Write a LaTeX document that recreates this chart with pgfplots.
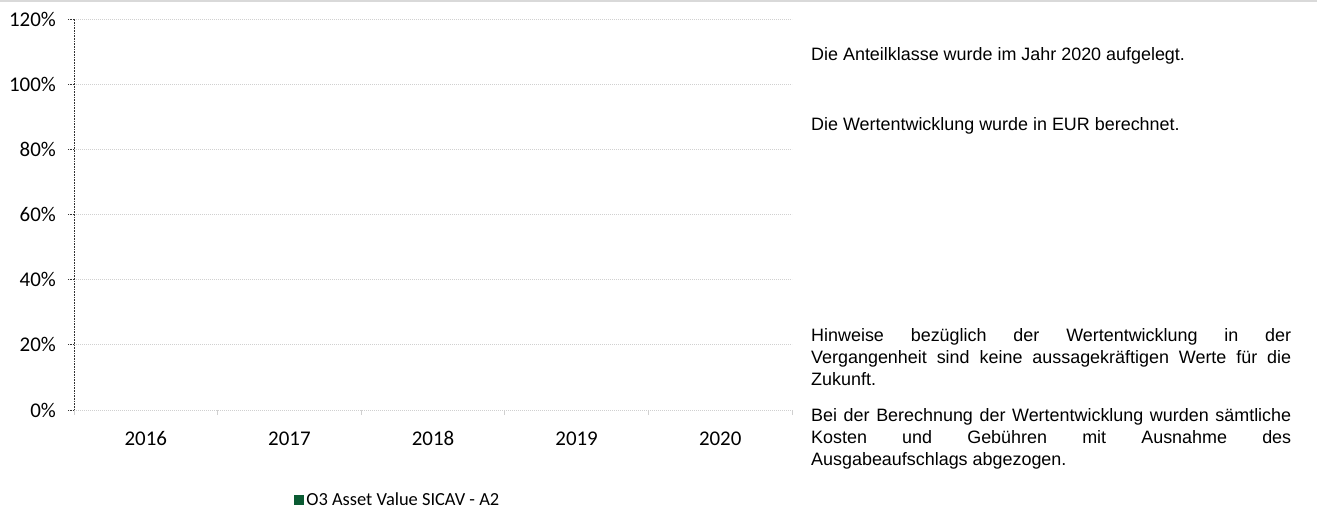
\documentclass[border=0pt]{standalone}
\usepackage{pgfplots}
\pgfplotsset{compat=1.18}
\usepackage{fontspec}
\setmainfont{Carlito}
\newfontfamily\arial{Liberation Sans}
\definecolor{fundgreen}{HTML}{0B5B33}
\definecolor{gridgray}{HTML}{D0D0D0}
\definecolor{topgray}{HTML}{D9D9D9}
\begin{document}
\begin{tikzpicture}[x=1bp,y=1bp]
\path[use as bounding box] (0,0) rectangle (1317,511);
\fill[topgray] (0,508.5) rectangle (1317,511);
\begin{axis}[
  at={(74bp,101bp)}, anchor=south west,
  scale only axis, width=718bp, height=391bp,
  xmin=2015.5, xmax=2020.5, ymin=0, ymax=120,
  axis x line=bottom, axis y line=left,
  x axis line style={-, draw=gridgray, dash pattern=on 1bp off 1bp},
  y axis line style={-, draw=black!80, dash pattern=on 1bp off 0.6bp, line width=0.8bp},
  xtick={2016,2017,2018,2019,2020},
  xticklabels={2016,2017,2018,2019,2020},
  major x tick style={draw=none},
  minor xtick={2015.5,2016.5,2017.5,2018.5,2019.5,2020.5},
  minor x tick style={draw=gridgray, line width=0.8bp},
  minor tick length=5bp,
  ytick={0,20,40,60,80,100,120},
  yticklabel={\pgfmathprintnumber{\tick}\%},
  /pgf/number format/assume math mode=true,
  major y tick style={draw=black!80, dash pattern=on 1bp off 0.6bp, line width=0.8bp},
  major tick length=6bp,
  tick align=outside,
  ymajorgrids,
  grid style={draw=gridgray, dash pattern=on 1bp off 1bp, line width=0.7bp},
  tick label style={font=\fontsize{21}{24}\selectfont, text=black},
  yticklabel style={anchor=east, inner sep=0pt, xshift=-12bp},
  xticklabel style={anchor=base, inner sep=0pt, yshift=-30bp},
  legend style={at={(0.451,-0.23)}, anchor=center, draw=none, fill=none,
    font=\fontsize{18.5}{20}\selectfont, inner sep=0pt},
  legend image code/.code={\fill[fundgreen] (0bp,-5bp) rectangle (10bp,5bp);},
  clip=false,
]
\addplot[ybar, bar width=60bp, fill=none, draw=none] coordinates {(2016,0) (2017,0) (2018,0) (2019,0) (2020,0)};
\addlegendentry{O3 Asset Value SICAV - A2}
\end{axis}
\begin{scope}[every node/.style={anchor=base west, inner sep=0pt, font=\arial\fontsize{18}{22}\selectfont}]
\node at (811,450) {Die Anteilklasse wurde im Jahr 2020 aufgelegt.};
\node at (811,380) {Die Wertentwicklung wurde in EUR berechnet.};
\node[text width=480bp, align=justify] at (811,169) {\hyphenpenalty=10000 Hinweise bezüglich der Wertentwicklung in der\linebreak Vergangenheit sind keine aussagekräftigen Werte für die\linebreak Zukunft.};
\node[text width=480bp, align=justify] at (811,89) {\hyphenpenalty=10000 Bei der Berechnung der Wertentwicklung wurden sämtliche\linebreak Kosten und Gebühren mit Ausnahme des\linebreak Ausgabeaufschlags abgezogen.};
\end{scope}
\end{tikzpicture}
\end{document}
